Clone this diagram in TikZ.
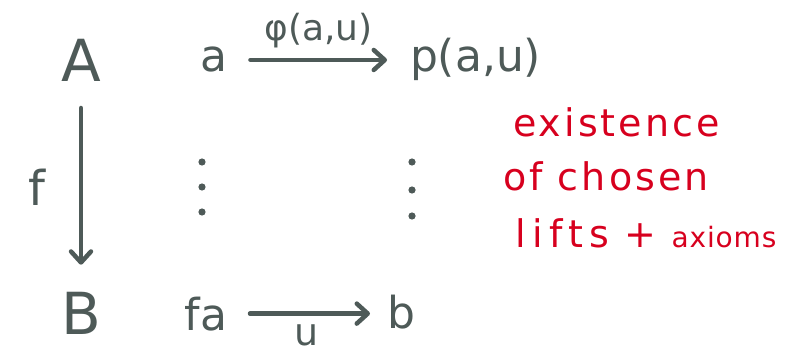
\documentclass[tikz,border=0pt]{standalone}
\usepackage{fontspec}
\setmainfont{DejaVu Sans}
\newfontfamily\notefont[LetterSpace=8]{DejaVu Sans}
\usetikzlibrary{arrows.meta, positioning}
\definecolor{inkgray}{RGB}{78, 90, 88}
\definecolor{inkred}{RGB}{215, 0, 30}
\newcommand{\bigobj}{\fontsize{58}{60}\selectfont}
\newcommand{\smallobj}{\fontsize{44}{46}\selectfont}
\newcommand{\maplabel}{\fontsize{36}{38}\selectfont}
\tikzset{
  >=Stealth,
  obj/.style={inner sep=0pt, outer sep=0pt, anchor=base, text=inkgray},
  maparrow/.style={-{Straight Barb[length=11pt, width=20pt, round]}, line width=4.5pt, line cap=round, inkgray},
  notetext/.style={inner sep=0pt, anchor=base west, text=inkred, font=\notefont\fontsize{38}{40}\selectfont}
}

\begin{document}
\begin{tikzpicture}[x=1pt, y=-1pt]
    \useasboundingbox (0, 0) rectangle (792, 358);

    % --- OBJECTS A AND B ---
    \node[obj, font=\bigobj] (A) at (81, 82) {A};
    \node[obj, font=\bigobj] (B) at (81, 334) {B};
    \draw[maparrow, shorten <=26pt, shorten >=27pt] (A.south) -- (A.south |- B.north)
        node[midway, left=36pt, obj, anchor=east, font=\fontsize{48}{50}\selectfont] {f};

    % --- TOP ROW: a -> p(a,u) ---
    \node[obj, font=\smallobj] (a) at (214, 72) {a};
    \node[obj, anchor=base west, font=\smallobj] (pa) at (410, 72) {p(a,u)};
    \draw[maparrow, shorten <=23pt, shorten >=23pt] (a.east) -- (a.east -| pa.west)
        node[midway, above=12pt, obj, anchor=south, font=\maplabel] {φ(a,u)};

    % --- BOTTOM ROW: fa -> b ---
    \node[obj, anchor=base east, font=\smallobj] (fa) at (227, 330) {fa};
    \node[obj, anchor=base west, font=\smallobj] (b) at (387, 328) {b};
    \draw[maparrow, shorten <=23pt, shorten >=17pt] (fa.east) -- (fa.east -| b.west)
        node[midway, below=11pt, obj, anchor=north, font=\fontsize{38}{40}\selectfont] {u};

    % --- VERTICAL DOTS ---
    \foreach \y in {162, 187, 212} {
        \fill[inkgray] (202, \y) circle (3.6pt);
    }
    \foreach \y in {162, 190, 216} {
        \fill[inkgray] (412, \y) circle (3.6pt);
    }

    % --- NOTE ---
    \node[notetext] (note1) at (513, 137) {existence};
    \node[notetext] (note2) at (503, 190) {of chosen};
    \node[notetext] (note3) at (515, 247) {{\addfontfeature{LetterSpace=17}lifts} + {\addfontfeature{LetterSpace=3}\fontsize{28}{30}\selectfont axioms}};
\end{tikzpicture}
\end{document}
